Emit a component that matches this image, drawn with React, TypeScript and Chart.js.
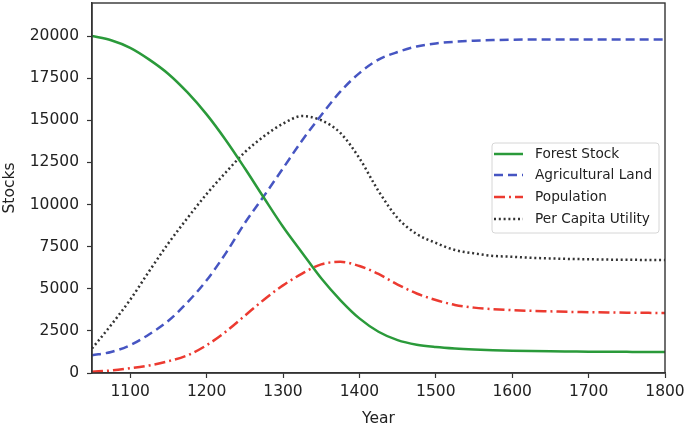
import React, { useEffect, useRef } from "react";
import { Chart, registerables } from "chart.js";

Chart.register(...registerables);

const years = [1050, 1075, 1100, 1125, 1150, 1175, 1200, 1225, 1250, 1275, 1300, 1325, 1350, 1375, 1400, 1425, 1450, 1475, 1500, 1525, 1550, 1575, 1600, 1625, 1650, 1675, 1700, 1725, 1750, 1775, 1800];

const forestStock = [20000, 19750, 19300, 18600, 17750, 16650, 15350, 13830, 12150, 10400, 8680, 7140, 5620, 4330, 3240, 2450, 1950, 1680, 1540, 1450, 1390, 1350, 1320, 1300, 1285, 1275, 1265, 1260, 1255, 1250, 1250];

const agriculturalLand = [1050, 1250, 1650, 2300, 3100, 4200, 5500, 7100, 8900, 10500, 12150, 13800, 15300, 16700, 17800, 18600, 19050, 19380, 19560, 19660, 19720, 19760, 19780, 19790, 19795, 19800, 19800, 19800, 19800, 19800, 19800];

const population = [80, 150, 280, 450, 700, 1050, 1650, 2450, 3400, 4350, 5200, 5900, 6450, 6600, 6350, 5880, 5250, 4720, 4330, 4040, 3880, 3790, 3730, 3690, 3660, 3630, 3610, 3590, 3580, 3570, 3560];

const perCapitaUtility = [1450, 2850, 4350, 6050, 7700, 9200, 10620, 11900, 13100, 14050, 14800, 15250, 15000, 14250, 12750, 10800, 9200, 8250, 7720, 7300, 7100, 6950, 6900, 6840, 6800, 6770, 6750, 6730, 6720, 6710, 6700];

const xTicks = [1100, 1200, 1300, 1400, 1500, 1600, 1700, 1800];
const yTicks = [0, 2500, 5000, 7500, 10000, 12500, 15000, 17500, 20000];

const seriesNames = ["Forest Stock", "Agricultural Land", "Population", "Per Capita Utility"];

const FONT = "'DejaVu Sans', sans-serif";

export default function App() {
  const canvasRef = useRef<HTMLCanvasElement | null>(null);

  useEffect(() => {
    document.body.style.margin = "0";
    const canvas = canvasRef.current;
    if (!canvas) return;

    const toPts = (arr: number[]) => years.map((yr, i) => ({ x: yr, y: arr[i] }));

    const styles = [
      { color: "#2a9a3a", dash: [] as number[] },
      { color: "#4655c2", dash: [9, 5] },
      { color: "#ec3a30", dash: [11, 4, 2, 4] },
      { color: "#333333", dash: [2, 2.8] },
    ];
    const seriesData = [forestStock, agriculturalLand, population, perCapitaUtility];

    const frame = {
      id: "frame",
      afterDraw(chart: any) {
        const { ctx, chartArea } = chart;
        const { left, right, top, bottom } = chartArea;
        ctx.save();
        ctx.strokeStyle = "#333";
        ctx.lineWidth = 1.4;
        ctx.setLineDash([]);
        ctx.strokeRect(left, top, right - left, bottom - top);

        // legend
        const bx = 492, by = 143, bw = 167, bh = 90, r = 3;
        ctx.beginPath();
        ctx.moveTo(bx + r, by);
        ctx.lineTo(bx + bw - r, by);
        ctx.quadraticCurveTo(bx + bw, by, bx + bw, by + r);
        ctx.lineTo(bx + bw, by + bh - r);
        ctx.quadraticCurveTo(bx + bw, by + bh, bx + bw - r, by + bh);
        ctx.lineTo(bx + r, by + bh);
        ctx.quadraticCurveTo(bx, by + bh, bx, by + bh - r);
        ctx.lineTo(bx, by + r);
        ctx.quadraticCurveTo(bx, by, bx + r, by);
        ctx.closePath();
        ctx.fillStyle = "rgba(255,255,255,0.85)";
        ctx.fill();
        ctx.strokeStyle = "#d6d6d6";
        ctx.lineWidth = 1;
        ctx.stroke();

        const rows = [154, 175, 197, 219];
        ctx.font = `13.7px ${FONT}`;
        ctx.textBaseline = "middle";
        ctx.textAlign = "left";
        seriesNames.forEach((name, i) => {
          ctx.beginPath();
          ctx.strokeStyle = styles[i].color;
          ctx.lineWidth = 2.5;
          ctx.setLineDash(styles[i].dash);
          ctx.moveTo(494, rows[i]);
          ctx.lineTo(523, rows[i]);
          ctx.stroke();
          ctx.setLineDash([]);
          ctx.fillStyle = "#222";
          ctx.fillText(name, 535, rows[i] + 0.5);
        });
        ctx.restore();
      },
    };

    const chart = new Chart(canvas, {
      type: "line",
      data: {
        datasets: seriesNames.map((name, i) => ({
          label: name,
          data: toPts(seriesData[i]),
          borderColor: styles[i].color,
          backgroundColor: styles[i].color,
          borderWidth: 2.5,
          borderDash: styles[i].dash,
          pointRadius: 0,
          cubicInterpolationMode: "monotone" as const,
          fill: false,
        })),
      },
      options: {
        responsive: false,
        animation: false,
        layout: { padding: { top: 3, right: 20, left: 0, bottom: 0 } },
        plugins: { legend: { display: false }, tooltip: { enabled: false } },
        scales: {
          x: {
            type: "linear",
            min: 1050,
            max: 1800,
            afterFit: (s: any) => { s.height = 53; s.paddingLeft = 0; s.paddingRight = 0; },
            afterBuildTicks: (s: any) => { s.ticks = xTicks.map((v) => ({ value: v })); },
            grid: { drawOnChartArea: false, drawTicks: true, tickLength: 5, tickColor: "#333", tickWidth: 1.2 },
            border: { display: true, color: "#333", width: 1.4 },
            ticks: { font: { family: FONT, size: 15.5 }, color: "#222", padding: 5, maxRotation: 0, callback: (v: any) => String(v) },
            title: { display: true, text: "Year", font: { family: FONT, size: 15.5 }, color: "#222", padding: { top: 0, bottom: -2 } },
          },
          y: {
            type: "linear",
            min: 0,
            max: 21960,
            afterFit: (s: any) => { s.width = 92; s.paddingTop = 0; s.paddingBottom = 0; },
            afterBuildTicks: (s: any) => { s.ticks = yTicks.map((v) => ({ value: v })); },
            grid: { drawOnChartArea: false, drawTicks: true, tickLength: 5, tickColor: "#333", tickWidth: 1.2 },
            border: { display: true, color: "#333", width: 1.4 },
            ticks: { font: { family: FONT, size: 15.5 }, color: "#222", padding: 8, callback: (v: any) => String(v) },
            title: { display: true, text: "Stocks", font: { family: FONT, size: 15.5 }, color: "#222", padding: { top: 1, bottom: 0 } },
          },
        },
      },
      plugins: [frame],
    });

    return () => chart.destroy();
  }, []);

  return (
    <div style={{ width: 685, height: 426 }}>
      <canvas ref={canvasRef} width={685} height={426} />
    </div>
  );
}
